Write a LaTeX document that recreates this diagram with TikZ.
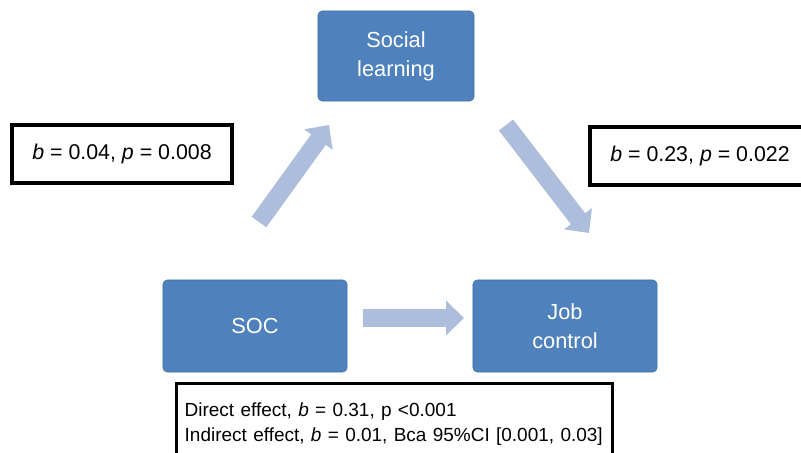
\documentclass[tikz,border=0pt]{standalone}
\usepackage{fontspec}
\setmainfont{Liberation Sans}
\usetikzlibrary{arrows.meta, positioning}
\definecolor{boxblue}{RGB}{79, 129, 189}
\definecolor{boxedge}{RGB}{65, 111, 166}
\definecolor{arrowblue}{RGB}{172, 190, 220}
\tikzstyle{construct} = [rectangle, rounded corners=3pt, minimum width=4.6cm, minimum height=2.3cm, text centered, align=center, draw=boxedge, fill=boxblue, text=white, font=\fontsize{15.5}{20.5}\selectfont]
\tikzstyle{estimate} = [rectangle, minimum width=5.5cm, minimum height=1.45cm, text centered, draw=black, line width=2.4pt, font=\fontsize{15.2}{18}\selectfont]
\tikzstyle{effect} = [draw=arrowblue, line width=0.45cm, -{Triangle[width=0.85cm,length=0.45cm]}]

\begin{document}
\begin{tikzpicture}[x=0.025cm, y=-0.025cm]
\useasboundingbox (0,0) rectangle (801,453);
\clip (0,0) rectangle (801,453);

% Constructs
\node (learning) [construct, minimum width=3.9cm, minimum height=2.25cm] at (396,56) {Social\\learning};
\node (soc) [construct] at (255,326) {SOC};
\node (job) [construct] at (565,326) {Job\\control};

% Path estimates
\node (pathA) [estimate] at (122,154) {\textit{b} = 0.04, \textit{p} = 0.008};
\node (pathB) [estimate] at (700,156) {\textit{b} = 0.23, \textit{p} = 0.022};
\node (summary) [estimate, anchor=north west, minimum width=10.9cm, minimum height=2cm, text width=10.5cm, align=left, inner xsep=0.2cm, font=\fontsize{13.5}{17.7}\selectfont] at (175,382) {Direct effect, \textit{b} = 0.31, p <0.001\\Indirect effect, \textit{b} = 0.01, Bca 95\%CI [0.001, 0.03]};

% Arrow ends
\coordinate (upStart) at (259,222);
\coordinate (upEnd) at (329,125);
\coordinate (downStart) at (506,125);
\coordinate (downEnd) at (589,233);
\coordinate (directStart) at (363,318);
\coordinate (directEnd) at (464,318);

% Arrows
\draw [effect] (upStart) -- (upEnd);
\draw [effect] (downStart) -- (downEnd);
\draw [effect] (directStart) -- (directEnd);

\end{tikzpicture}
\end{document}
